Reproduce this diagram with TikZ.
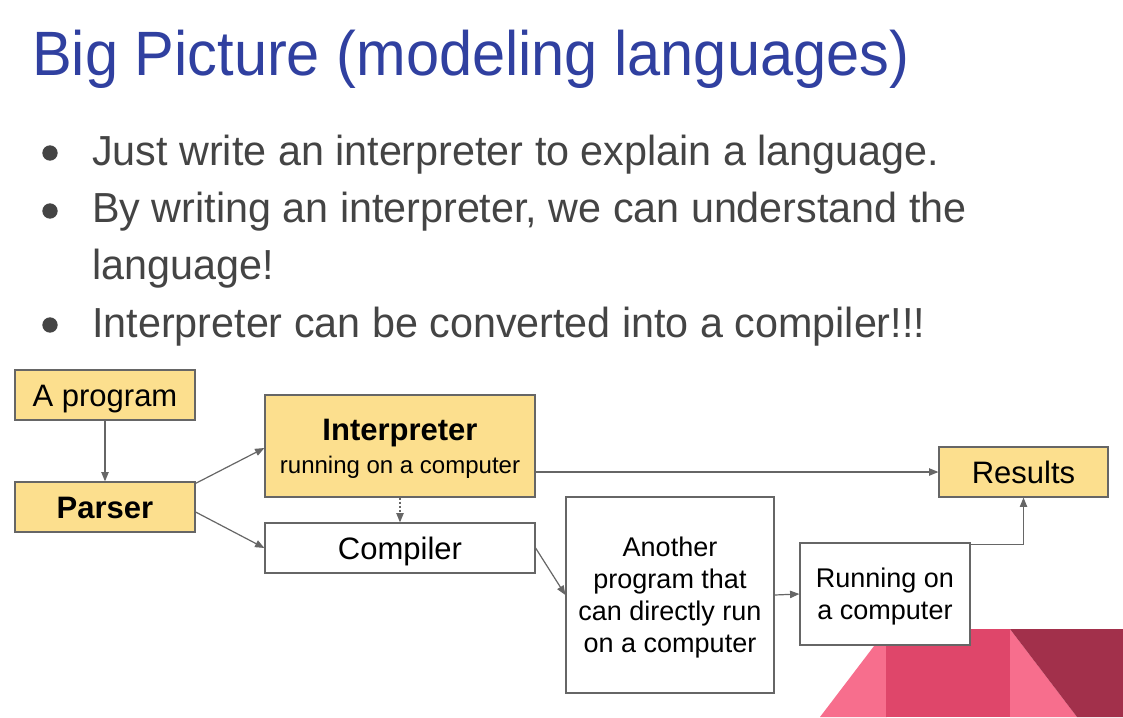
\documentclass[tikz,border=0pt]{standalone}
\usepackage{fontspec}
\setmainfont{Liberation Sans}
\newfontfamily\titlefont[FakeStretch=0.95]{Liberation Sans}
\newfontfamily\bulletfont[FakeStretch=0.983]{Liberation Sans}
\usetikzlibrary{arrows.meta}
\definecolor{titleblue}{HTML}{3040A0}
\definecolor{bodygray}{HTML}{444444}
\definecolor{boxyellow}{HTML}{FCDF8E}
\definecolor{edgegray}{HTML}{666666}
\definecolor{pinkA}{HTML}{F76E8D}
\definecolor{pinkB}{HTML}{DF466A}
\definecolor{pinkC}{HTML}{A2304B}
\begin{document}
\begin{tikzpicture}[x=0.75pt,y=-0.75pt,
  box/.style={draw=edgegray, line width=0.9pt, inner sep=0pt, align=center, text=black,
    text depth=0pt, font=\fontsize{23.25pt}{27pt}\selectfont},
  one/.style={text height=16.6pt},
  ybox/.style={box, fill=boxyellow},
  wbox/.style={box, fill=white},
  small/.style={font=\fontsize{20.25pt}{24pt}\selectfont},
  conn/.style={draw=edgegray, line width=0.9pt, -{Triangle[length=7pt,width=5.5pt]}},
  bul/.style={circle, fill=bodygray, inner sep=0pt, minimum size=11.5pt},
  btext/.style={anchor=base west, inner sep=0pt, text=bodygray, font=\bulletfont\fontsize{31.5pt}{36pt}\selectfont}
]
\fill[white] (0,0) rectangle (1123,717);
\useasboundingbox (0,0) rectangle (1123,717);

% title
\node[anchor=base west, inner sep=0pt, text=titleblue, font=\titlefont\fontsize{47pt}{52pt}\selectfont]
  (title) at (32,75) {Big Picture (modeling languages)};

% bullets
\node[bul] (b1) at (50,153) {};
\node[btext] (t1) at (92,165) {Just write an interpreter to explain a language.};
\node[bul] (b2) at (50,211) {};
\node[btext] (t2) at (92,222) {By writing an interpreter, we can understand the};
\node[btext] (t2b) at (92,279) {language!};
\node[bul] (b3) at (50,325) {};
\node[btext] (t3) at (92,337) {Interpreter can be converted into a compiler!!!};

% decoration at bottom right
\fill[pinkA] (820,717) -- (887,629) -- (887,717) -- cycle;
\fill[pinkB] (886,629) rectangle (1010,717);
\fill[pinkA] (1010,629) -- (1077,717) -- (1010,717) -- cycle;
\fill[pinkC] (1010,629) -- (1123,629) -- (1123,717) -- (1077,717) -- cycle;

% boxes
\node[ybox, one, minimum width=135pt, minimum height=37.5pt] (prog) at (105,395) {A program};
\node[ybox, one, minimum width=135pt, minimum height=37.5pt] (parser) at (105,507) {\bfseries Parser};
\node[ybox, text depth=-4.5pt, minimum width=202.5pt, minimum height=76.5pt] (interp) at (400,446)
  {\bfseries Interpreter\\[-2.5pt]{\fontsize{18pt}{21pt}\selectfont running on a computer}};
\node[wbox, one, minimum width=202.5pt, minimum height=37.5pt] (comp) at (400,548) {Compiler};
\node[ybox, one, minimum width=126.75pt, minimum height=37.5pt] (res) at (1023.5,472) {Results};
\node[wbox, small, minimum width=156pt, minimum height=147pt] (another) at (670,595)
  {Another\\program that\\can directly run\\on a computer};
\node[wbox, small, minimum width=127.5pt, minimum height=76.5pt] (run) at (885,594)
  {Running on\\a computer};

% connectors
\draw[conn] (prog) -- (parser);
\draw[conn] ([yshift=-1.5pt]parser.north east) -- ([yshift=-1.5pt]interp.west);
\draw[conn] ([yshift=-3.75pt]parser.east) -- (comp.west);
\draw[conn, dash pattern=on 1.5pt off 1.5pt] (interp) -- (comp);
\draw[conn] (interp.east |- res.west) -- (res.west);
\draw[conn] (comp.east) -- (another.west);
\draw[conn] (another.east) -- (run.west);
\draw[conn] ([yshift=-1.5pt]run.north east) -| (res.south);
\end{tikzpicture}
\end{document}
